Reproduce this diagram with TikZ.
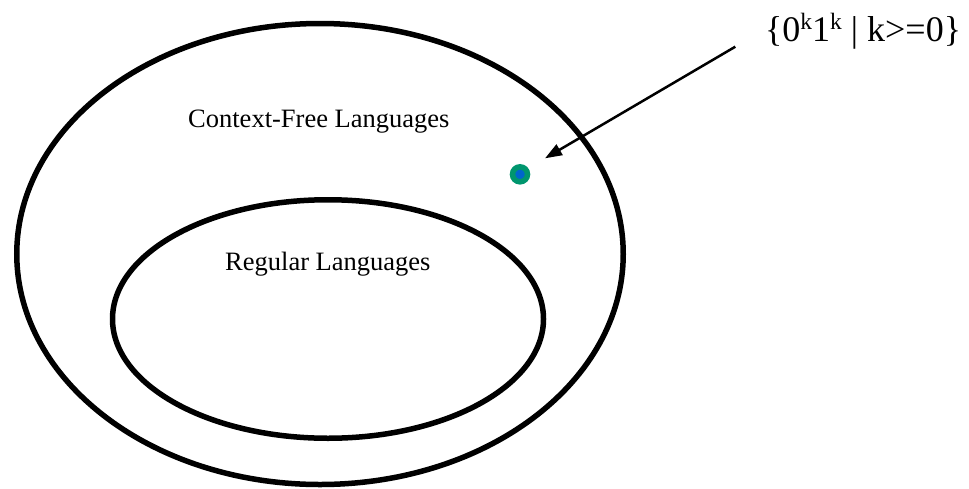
\documentclass[tikz,border=0pt]{standalone}
\usepackage{fontspec}
\setmainfont{Liberation Serif}
\usetikzlibrary{shapes.geometric,arrows.meta}
\definecolor{dotgreen}{RGB}{0,150,110}
\definecolor{dotblue}{RGB}{0,102,204}
\tikzset{
  setring/.style={draw=black, line width=5.5pt, ellipse, inner sep=0pt, outer sep=0pt},
  lbl/.style={inner sep=0pt, anchor=base west, font=\fontsize{26.5}{30}\selectfont},
  pointer/.style={line width=2.5pt, -{Triangle[length=17pt,width=12pt]}},
}
\begin{document}
\begin{tikzpicture}[x=1pt,y=-1pt]
\useasboundingbox (0,0) rectangle (969,488);
\node[setring, minimum width=606.5pt, minimum height=461pt] (cfl) at (320,254) {};
\node[setring, minimum width=431pt, minimum height=238.5pt] (reg) at (328,319) {};
\node[lbl] (cfltext) at (188,127) {Context-Free Languages};
\node[lbl] (regtext) at (225,270) {Regular Languages};
\node[circle, fill=dotblue, draw=dotgreen, line width=5.5pt, minimum size=15pt, inner sep=0pt] (dot) at (520,174.3) {};
\node[inner sep=0pt, anchor=base west, font=\fontsize{36}{40}\selectfont] (lang) at (765,41.7)
  {\{0\raisebox{0.33em}{\fontsize{23.5}{24}\selectfont k}1\raisebox{0.33em}{\fontsize{23.5}{24}\selectfont k} | k>=0\}};
\coordinate (tail) at (735.3,46.7);
\coordinate (tip) at (545,158.3);
\draw[pointer] (tail) -- (tip);
\end{tikzpicture}
\end{document}
